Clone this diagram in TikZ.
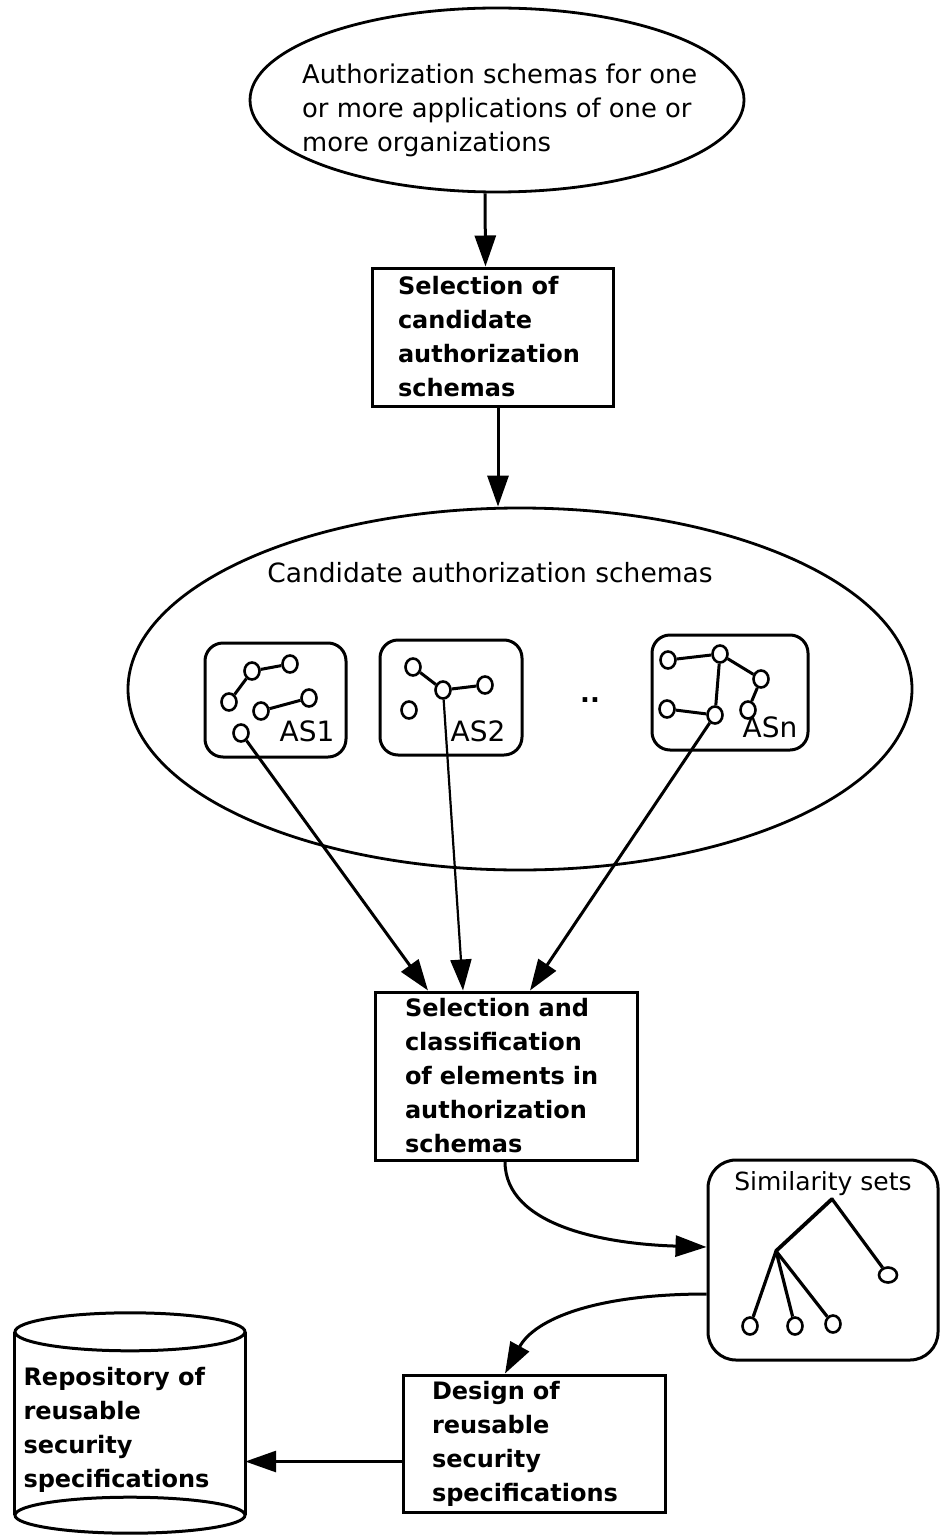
\documentclass[tikz,border=0pt]{standalone}
\usepackage{fontspec}
\setmainfont{DejaVu Sans}
\usetikzlibrary{shapes.geometric,arrows.meta,calc}
\begin{document}
\begin{tikzpicture}[x=1pt,y=-1pt,
  lw/.style={line width=3pt},
  arr/.style={line width=3pt,-{Triangle[length=31pt,width=21pt]}},
  procbox/.style={draw,line width=3pt,rectangle,align=left,inner ysep=0pt,font=\fontsize{24pt}{34pt}\selectfont\bfseries},
  oval/.style={draw,ellipse,line width=2.8pt,inner sep=0pt},
  asbox/.style={draw,rectangle,rounded corners=18pt,line width=3pt,inner sep=0pt},
  dot/.style={draw,ellipse,fill=white,line width=2.6pt,inner sep=0pt,minimum width=15pt,minimum height=17pt},
  gedge/.style={line width=3pt},
  aslabel/.style={font=\fontsize{28pt}{30pt}\selectfont},
  plain/.style={align=left,inner xsep=0pt,font=\fontsize{25.8pt}{34pt}\selectfont}
]
\fill[white] (0,0) rectangle (940,1538);
\useasboundingbox (0,0) rectangle (940,1538);

% top source ellipse
\node[oval,minimum width=494pt,minimum height=184pt] (src) at (497,100) {};
\node[plain,anchor=west] (srctext) at (302,110) {Authorization schemas for one\\or more applications of one or\\more organizations};

% selection of candidates
\node[procbox,minimum width=241pt,minimum height=138pt,text width=189pt,inner xsep=26pt] (sel1) at (492.5,337) {Selection of\\candidate\\authorization\\schemas};

% candidate ellipse
\node[oval,minimum width=784pt,minimum height=362pt] (cand) at (520,689) {};
\node[font=\fontsize{26.5pt}{30pt}\selectfont] (candtext) at (490,573) {Candidate authorization schemas};

% AS boxes
\node[asbox,minimum width=141pt,minimum height=114pt] (as1) at (275.5,700) {};
\node[asbox,minimum width=142pt,minimum height=115pt] (as2) at (451,697.5) {};
\node[asbox,minimum width=156pt,minimum height=115pt] (asn) at (730,692.5) {};
\node[aslabel] (as1l) at (307,731) {AS1};
\node[aslabel] (as2l) at (478,731) {AS2};
\node[aslabel] (asnl) at (770,727) {ASn};
\node[font=\fontsize{26pt}{30pt}\selectfont\bfseries] (dots) at (590,700) {..};

% AS1 graph
\node[dot] (a1) at (252,671) {};
\node[dot] (a2) at (290,664) {};
\node[dot] (a3) at (229,702) {};
\node[dot] (a4) at (309,698) {};
\node[dot] (a5) at (261,711) {};
\node[dot] (a6) at (241,733) {};
\draw[gedge] (a3) -- (a1) (a1) -- (a2) (a5) -- (a4);

% AS2 graph
\node[dot] (b1) at (413,667) {};
\node[dot] (b2) at (443,690) {};
\node[dot] (b3) at (485,685) {};
\node[dot] (b4) at (409,710) {};
\draw[gedge] (b1) -- (b2) (b2) -- (b3);

% ASn graph
\node[dot] (c1) at (668,660) {};
\node[dot] (c2) at (720,654) {};
\node[dot] (c3) at (761,679) {};
\node[dot] (c4) at (667,709) {};
\node[dot] (c5) at (715,715) {};
\node[dot] (c6) at (748,710) {};
\draw[gedge] (c1) -- (c2) (c2) -- (c3) (c3) -- (c6) (c2) -- (c5) (c4) -- (c5);

% selection and classification
\node[procbox,minimum width=262pt,minimum height=168pt,text width=202pt,inner xsep=30pt] (sel2) at (506,1076) {Selection and\\classification\\of elements in\\authorization\\schemas};

% similarity sets
\node[asbox,rounded corners=28pt,minimum width=230pt,minimum height=200pt] (sim) at (823,1260) {};
\node[font=\fontsize{25pt}{30pt}\selectfont] (simtext) at (823,1184) {Similarity sets};
\coordinate (r0) at (832,1199);
\coordinate (r1) at (776,1251);
\node[dot,minimum width=18pt,minimum height=15pt] (t1) at (888,1275) {};
\node[dot] (t2) at (750,1326) {};
\node[dot] (t3) at (795,1326) {};
\node[dot] (t4) at (833,1324) {};
\draw[gedge,line width=3.8pt,line cap=round] (r0) -- (r1);
\draw[gedge,line width=3.2pt] (r0) -- (t1) (r1) -- (t2) (r1) -- (t3) (r1) -- (t4);

% design box
\node[procbox,minimum width=262pt,minimum height=137pt,text width=204pt,inner xsep=29pt] (des) at (534,1443.5) {Design of\\reusable\\security\\specifications};

% repository cylinder
\node[minimum width=230pt,minimum height=183pt,inner sep=0pt] (repo) at (130,1423.5) {};
\draw[lw] (repo.north) ellipse [x radius=115pt,y radius=19pt];
\draw[lw] (repo.south) ellipse [x radius=115pt,y radius=18pt];
\draw[lw] (repo.north west) -- (repo.south west) (repo.north east) -- (repo.south east);
\node[procbox,draw=none,anchor=west,inner sep=0pt] (repotext) at (22,1430) {Repository of\\reusable\\security\\specifications};

% connectors
\draw[arr] ([xshift=-12pt]src.south) -- ([xshift=-7pt]sel1.north);
\draw[arr] ([xshift=5.5pt]sel1.south) -- ([xshift=-22pt]cand.north);
\draw[arr] (a6) -- ([xshift=-78pt]sel2.north);
\draw[arr,line width=2.2pt] (b2) -- ([xshift=-43pt]sel2.north);
\draw[arr] (c5) -- ([xshift=24pt]sel2.north);
\draw[arr] ([xshift=-1pt]sel2.south) .. controls +(0,65) and +(-100,-3) .. ([yshift=13pt]sim.west);
\draw[arr] ([yshift=-34pt]sim.west) .. controls +(-110,0) and +(30,-55) .. ([xshift=-29pt]des.north);
\coordinate (d3) at ([yshift=-18pt]des.west);
\draw[arr] (d3) -- (d3 -| repo.east);
\end{tikzpicture}
\end{document}
